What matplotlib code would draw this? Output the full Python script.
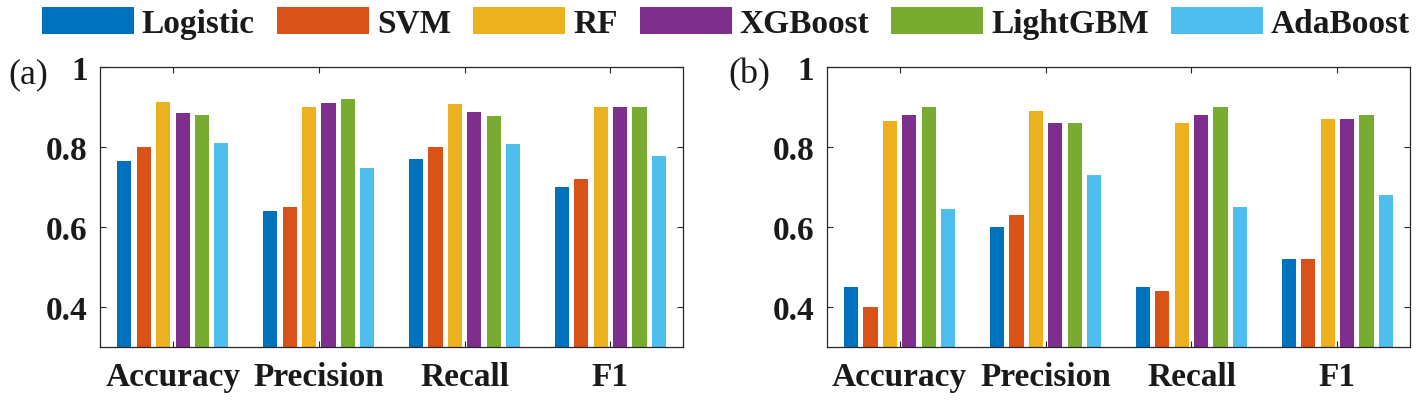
import matplotlib
matplotlib.use("Agg")
import matplotlib.pyplot as plt
import numpy as np

metrics = ["Accuracy", "Precision", "Recall", "F1"]
models = ["Logistic", "SVM", "RF", "XGBoost", "LightGBM", "AdaBoost"]
colors = ["#0072BD", "#D95319", "#EDB120", "#7E2F8E", "#77AC30", "#4DBEEE"]

# panel (a): rows = models, columns = metrics
logistic_a = [0.765, 0.64, 0.77, 0.70]
svm_a = [0.80, 0.65, 0.80, 0.72]
rf_a = [0.913, 0.90, 0.908, 0.90]
xgb_a = [0.886, 0.91, 0.889, 0.90]
lgbm_a = [0.882, 0.92, 0.879, 0.90]
ada_a = [0.811, 0.748, 0.808, 0.778]

# panel (b)
logistic_b = [0.45, 0.60, 0.45, 0.52]
svm_b = [0.40, 0.63, 0.44, 0.52]
rf_b = [0.865, 0.89, 0.86, 0.87]
xgb_b = [0.88, 0.86, 0.88, 0.87]
lgbm_b = [0.90, 0.86, 0.90, 0.88]
ada_b = [0.645, 0.73, 0.65, 0.68]

yticks = [0.4, 0.6, 0.8, 1.0]
ytick_labels = ["0.4", "0.6", "0.8", "1"]

panel_a = [logistic_a, svm_a, rf_a, xgb_a, lgbm_a, ada_a]
panel_b = [logistic_b, svm_b, rf_b, xgb_b, lgbm_b, ada_b]

W, H = 1417, 406
fig = plt.figure(figsize=(W / 100, H / 100), dpi=100)

serif = ["Liberation Serif", "DejaVu Serif"]
spine_col = "#262626"

def make_axes(rect, data):
    ax = fig.add_axes(rect)
    x = np.arange(1, len(metrics) + 1)
    step = 0.133
    width = 0.097
    n = len(models)
    for i, (vals, c) in enumerate(zip(data, colors)):
        offs = (i - (n - 1) / 2) * step
        ax.bar(x + offs, vals, width=width, color=c, edgecolor="none",
               label=models[i], zorder=2)
    ax.set_xlim(0.5, 4.5)
    ax.set_ylim(0.3, 1.0)
    ax.set_xticks(x)
    ax.set_xticklabels(metrics)
    ax.set_yticks(yticks)
    ax.set_yticklabels(ytick_labels)
    ax.tick_params(axis="both", direction="in", length=4.5, width=0.8,
                   color=spine_col, top=True, right=True, zorder=3)
    ax.tick_params(axis="y", pad=9)
    ax.tick_params(axis="x", pad=10)
    for lab in ax.get_xticklabels() + ax.get_yticklabels():
        lab.set_fontfamily(serif)
        lab.set_fontweight("bold")
        lab.set_fontsize(24)
        lab.set_color("#1a1a1a")
    for s in ax.spines.values():
        s.set_color(spine_col)
        s.set_linewidth(0.9)
        s.set_zorder(3)
    return ax

ax_a = make_axes([100 / W, 57.7 / H, 583.3 / W, 280 / H], panel_a)
ax_b = make_axes([826.7 / W, 57.7 / H, 583.6 / W, 280 / H], panel_b)

fig.text(8 / W, 1 - 75 / H, "(a)", fontfamily=serif, fontsize=26,
         ha="left", va="center", color="#1a1a1a")
fig.text(728 / W, 1 - 75 / H, "(b)", fontfamily=serif, fontsize=26,
         ha="left", va="center", color="#1a1a1a")

handles, labels = ax_a.get_legend_handles_labels()
leg = fig.legend(handles, labels, loc="center", ncol=6,
                 bbox_to_anchor=(726 / W, 1 - 24 / H), frameon=False,
                 prop={"family": serif, "weight": "bold", "size": 24},
                 handlelength=2.76, handleheight=0.85, handletextpad=0.24,
                 columnspacing=0.66, borderpad=0, borderaxespad=0)
for t in leg.get_texts():
    t.set_color("#1a1a1a")

fig.savefig("out.png", dpi=100)
